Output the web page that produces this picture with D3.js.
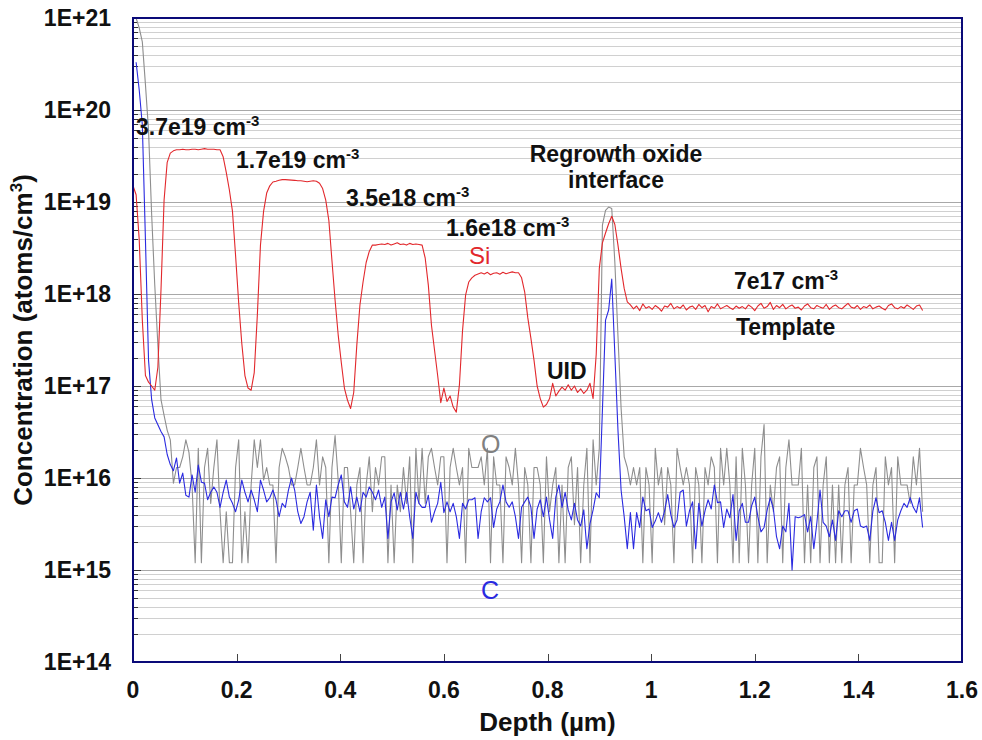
<!DOCTYPE html>
<html>
<head>
<meta charset="utf-8">
<script src="https://cdn.jsdelivr.net/npm/d3@7"></script>
<style>
  body { margin: 0; background: #fff; }
  text { font-family: "Liberation Sans", Arial, Helvetica, sans-serif; }
</style>
</head>
<body>
<svg id="chart" width="982" height="740"></svg>
<script>
// SIMS depth profile: Si, O and C concentration versus depth.
// All three profiles share one sampling grid: sample i sits at depth i * depthStep (µm).
const depthStep = 0.006;

// Si concentration (atoms/cm3)
const siValues = [
  1.5e19, 1.2e19, 3.9e18, 5.2e17, 1.3e17, 1.1e17, 1.0e17, 9e16, 1.6e17, 1.1e18,
  1.05e19, 2.7e19, 3.4e19,
  3.6e19, 3.7e19, 3.7e19, 3.75e19, 3.7e19, 3.7e19, 3.75e19, 3.75e19, 3.7e19, 3.75e19,
  3.8e19, 3.75e19, 3.75e19, 3.75e19, 3.7e19, 3.7e19,
  3.1e19, 2.1e19, 1.35e19, 7.9e18, 2.6e18, 8e17, 2.9e17, 1.3e17, 9.5e16, 9e16,
  1.4e17, 5.9e17, 3.4e18, 7.9e18, 1.25e19, 1.5e19, 1.65e19,
  1.68e19, 1.72e19, 1.75e19, 1.75e19, 1.74e19, 1.73e19, 1.72e19, 1.7e19, 1.7e19,
  1.68e19, 1.66e19, 1.68e19, 1.7e19, 1.68e19, 1.6e19,
  1.4e19, 1.05e19, 6.3e18, 2.3e18, 8.6e17, 3.6e17, 1.8e17, 9.5e16, 7e16, 5.7e16,
  8.5e16, 2.8e17, 7.6e17, 1.35e18, 2.2e18, 2.9e18, 3.4e18,
  3.4e18, 3.45e18, 3.5e18, 3.45e18, 3.55e18, 3.4e18, 3.5e18, 3.6e18, 3.45e18, 3.5e18,
  3.4e18, 3.55e18, 3.45e18, 3.5e18, 3.45e18, 3.4e18,
  2.45e18, 1.25e18, 4.6e17, 2.45e17, 1.3e17, 6.6e16, 9.5e16, 6.8e16, 7.8e16, 5.9e16,
  5.2e16, 1.03e17, 4e17, 9.8e17, 1.35e18, 1.5e18,
  1.6e18, 1.65e18, 1.7e18, 1.65e18, 1.72e18, 1.62e18, 1.68e18, 1.7e18, 1.64e18, 1.72e18,
  1.66e18, 1.7e18, 1.74e18, 1.7e18,
  1.7e18, 1.5e18, 1.05e18, 5.5e17, 3.3e17, 1.9e17, 1.0e17, 7.3e16, 5.9e16, 6.3e16,
  7.3e16, 1.07e17, 7.8e16, 8.8e16, 9.7e16, 9e16, 1.03e17, 9e16, 1e17, 8.5e16,
  9.3e16, 8.3e16, 9e16, 1.07e17, 7.3e16, 2.2e17, 1.9e18, 3.6e18, 4.6e18, 5.8e18,
  7e18, 5.7e18, 3.4e18, 1.9e18, 1.15e18, 8.2e17,
  7.6e17, 6.9e17, 7.4e17, 6.6e17, 7.8e17, 7.0e17, 7.3e17, 6.8e17, 7.5e17, 7.1e17,
  6.5e17, 7.4e17, 7.2e17, 7.9e17, 6.9e17, 7.3e17, 7.0e17, 7.6e17, 6.7e17, 7.2e17,
  7.4e17, 6.8e17, 7.7e17, 7.1e17, 7.5e17, 6.4e17, 7.3e17, 7.0e17, 7.8e17, 6.9e17,
  7.2e17, 7.5e17, 7.1e17, 6.8e17, 7.4e17, 7.0e17, 7.3e17, 6.9e17, 7.6e17, 7.2e17,
  6.6e17, 7.4e17, 7.9e17, 7.0e17, 7.3e17, 8.1e17, 6.8e17, 7.5e17, 7.1e17, 7.7e17,
  6.9e17, 7.3e17, 7.6e17, 7.0e17, 7.2e17, 6.7e17, 7.4e17, 7.8e17, 7.1e17, 6.9e17,
  7.5e17, 7.2e17, 7.0e17, 7.7e17, 6.8e17, 7.3e17, 7.6e17, 7.1e17, 6.9e17, 7.4e17,
  7.9e17, 7.2e17, 7.0e17, 7.5e17, 6.8e17, 7.3e17, 7.1e17, 7.6e17, 6.9e17, 7.2e17,
  7.4e17, 7.0e17, 6.7e17, 7.5e17, 7.8e17, 7.1e17, 6.9e17, 7.3e17, 7.0e17, 7.6e17,
  7.2e17, 6.8e17, 7.4e17, 7.6e17, 6.6e17
];

// O and C concentrations, in units of 1e15 atoms/cm3 (null = no reading)
const lowUnit = 1e15;

const oValues = [
  null, 1.0e6, 7.8e5, 5.5e5, 1.9e5, 6e4, 7300, 1250, 280, 71, 48, 33, 26, 8.8,
  13, 13, 17, 26, 19, 8.4, 1.2, 21, 1.2, 13, 21, 5.3, 13, 26, 4.3, 1.2,
  4.3, 1.2, 1.2, 13, 26, 1.2, 4.3, 1.2, 8.4, 26, 13, 26, 9.5, 13, 8.4, 8.4,
  1.2, 13, 21, 17, 13, 8.4, 8.4, 13, 21, 13, 8.4, 8.4, 13, 26, 8.4, 17, 13, 1.2, 13,
  29, 9.5, 1.2, 13, 13, 4.3, 1.2, 8.4, 13,
  1.2, 8.4, 17, 4.3, 13, 8.4, 17, 17, 1.2, 8.4, 1.2, 8.4, 4.3,
  13, 5.3, 17, 1.2, 21, 5.3, 21, 5.3, 17, 21, 13,
  8.4, 17, 17, 1.2, 13, 21, 13, 8.4, 13, 1.2, 21, 13, 13, 13, 17,
  8.4, 21, 1.2, 17, 8.4, 8.4, 1.2, 17, 13, 8.4, 21, 8.4,
  1.2, 13, 8.4, 1.2, 13, 13, 8.4, 1.2, 17, 4.3, 8.4, 13,
  1.2, 8.4, 1.2, 13, 17, 3.1, 13, 1.2, 8.4,
  21, 1.2, 26, 8.4, 21,
  5600, 8100, 8800, 8500, 2200, 350, 58,
  17, 13, 8.4, 13, 8.4, 13, 1.2, 13, 8.4, 1.2, 21, 8.4, 13, 3.1, 13, 8.4, 1.2, 21, 13,
  8.4, 13, 8.4, 1.2, 13, 8.4, 1.2, 13, 8.4, 17, 13, 1.2, 21, 8.4, 21, 8.4, 1.2,
  17, 1.2, 21, 8.4, 1.2, 8.4, 21, 1.2, 17, 38, 1.2, 8.4, 4.3, 13, 17, 1.2, 13, 26,
  8.4, 8.4, 8.4, 21, 1.2, 8.4, 1.2, 13, 17, 1.2, 8.4, 17, 1.2, 8.4, 1.2, 8.4, 1.2,
  8.4, 13, 1.2, 8.4, 8.4, 21, 13, 8.4, 1.2, 8.4, 13, 1.2, 1.2, 17, 8.4, 13, 1.2,
  17, 8.4, 8.4, 8.4, 5.3, 17, 8.4, 21, 4.3
];

const cValues = [
  null, 330000, 165000, 69000, 3900, 190, 71, 45, 38, 32, 28, 18, 14, 12, 16.5,
  8.8, 11.3, 6.5, 6.2, 10.8, 7.0, 13.8, 9.0, 8.8, 5.8,
  7.0, 8.0, 7.0, 4.8, 7.0, 9.5, 6.2, 5.3, 4.3, 5.8,
  9.5, 7.0, 5.5, 7.4, 5.8, 4.3, 9.5, 7.4, 5.5, 6.1,
  7.4, 5.8, 3.8, 5.3, 4.8, 7.4, 10.0, 7.4, 4.3, 3.2,
  3.8, 5.5, 7.0, 2.7, 8.4, 3.8, 2.2, 5.8, 3.8, 6.2, 6.1, 8.4,
  10.8, 5.5, 4.8, 8.0, 4.6, 6.2, 4.3, 7.0, 6.2,
  8.0, 7.0, 5.8, 7.4, 4.8, 6.2, 2.2, 5.5, 6.9,
  4.5, 7.0, 4.6, 7.0, 3.8, 2.2, 7.0, 5.3, 4.8,
  4.8, 6.5, 3.3, 4.3, 5.3, 9.0, 4.2, 5.5, 4.3,
  5.3, 3.8, 2.2, 5.3, 4.6, 5.8, 5.8, 6.1, 2.2,
  4.3, 6.1, 5.5, 6.1, 2.9, 4.6, 5.5, 8.4, 5.5,
  4.8, 5.5, 3.8, 2.2, 4.8, 5.5, 6.2, 4.8, 2.2, 4.6, 5.8,
  3.8, 6.2, 3.5, 2.2, 6.2, 8.4, 4.8, 7.0, 4.5, 3.5, 5.3, 3.5, 3.0, 4.5, 1.7, 3.2, 4.5, 6.9, 6.1,
  55, 520, 670, 1450, 220, 33, 7.4,
  3.8, 1.7, 4.2, 1.7, 4.2, 2.9, 6.2,
  4.4, 4.6, 2.9, 3.4, 4.2, 3.3, 4.4, 6.6,
  4.0, 2.9, 3.5, 7.0, 7.4, 3.0, 4.4, 5.5,
  1.7, 5.3, 3.0, 4.4, 5.8, 4.6, 8.4, 5.4,
  5.5, 2.9, 4.6, 3.7, 6.6, 2.1, 4.4, 5.3,
  3.3, 3.3, 5.0, 6.2, 3.8, 2.6, 2.9, 4.5,
  6.1, 4.6, 2.3, 1.7, 3.0, 2.6, 5.3, 1.0, 3.8,
  3.7, 3.8, 4.0, 2.6, 3.8, 1.7, 3.3, 7.4, 3.3,
  3.0, 2.3, 3.5, 2.1, 4.4, 3.8, 4.4,
  4.4, 3.3, 4.4, 4.6, 3.0, 2.9, 3.0, 2.1, 4.4,
  6.1, 4.2, 4.4, 3.3, 2.1, 3.3, 2.1, 3.5,
  4.4, 5.3, 4.8, 6.1, 4.8, 4.2, 6.1, 2.9
];

// Axis ticks
const xTickValues = [0, 0.2, 0.4, 0.6, 0.8, 1, 1.2, 1.4, 1.6];
const xTickLabels = ["0", "0.2", "0.4", "0.6", "0.8", "1", "1.2", "1.4", "1.6"];
const yTickValues = [1e14, 1e15, 1e16, 1e17, 1e18, 1e19, 1e20, 1e21];
const yTickLabels = ["1E+14", "1E+15", "1E+16", "1E+17", "1E+18", "1E+19", "1E+20", "1E+21"];

// ---- layout ----
const plot = { left: 133, right: 962, top: 18, bottom: 662 };
const svg = d3.select("#chart");

const x = d3.scaleLinear().domain([0, 1.6]).range([plot.left, plot.right]);
const y = d3.scaleLog().domain([1e14, 1e21]).range([plot.bottom, plot.top]);

// horizontal gridlines at every 1..9 × 10^k
const gridVals = [];
for (let k = 14; k <= 20; k++) for (let m = 1; m <= 9; m++) gridVals.push(m * Math.pow(10, k));
gridVals.push(1e21);
const isDecade = d => Math.abs(Math.log10(d) - Math.round(Math.log10(d))) < 1e-9;

svg.append("g").attr("class", "grid")
  .selectAll("line").data(gridVals).join("line")
  .attr("x1", plot.left).attr("x2", plot.right)
  .attr("y1", d => Math.round(y(d)) + 0.5).attr("y2", d => Math.round(y(d)) + 0.5)
  .attr("stroke", d => (isDecade(d) ? "#a8a8a8" : "#d0d0d0"))
  .attr("stroke-width", 1);

// left axis inward ticks
svg.append("g").attr("class", "y-ticks")
  .selectAll("line").data(gridVals).join("line")
  .attr("x1", plot.left).attr("x2", d => plot.left + (isDecade(d) ? 8 : 5))
  .attr("y1", d => Math.round(y(d)) + 0.5).attr("y2", d => Math.round(y(d)) + 0.5)
  .attr("stroke", "#333").attr("stroke-width", 1);

// bottom axis inward ticks
svg.append("g").attr("class", "x-ticks")
  .selectAll("line").data(xTickValues).join("line")
  .attr("x1", d => Math.round(x(d)) + 0.5).attr("x2", d => Math.round(x(d)) + 0.5)
  .attr("y1", plot.bottom).attr("y2", plot.bottom - 8)
  .attr("stroke", "#444").attr("stroke-width", 1);

// profiles
svg.append("clipPath").attr("id", "plot-clip")
  .append("rect")
  .attr("x", plot.left).attr("y", plot.top)
  .attr("width", plot.right - plot.left).attr("height", plot.bottom - plot.top);

const toPoints = (vals, unit) => vals.map((v, i) => ({ d: i * depthStep, v: v == null ? null : v * unit }));
const line = d3.line().defined(p => p.v != null).x(p => x(p.d)).y(p => y(p.v));

const series = [
  { name: "O", points: toPoints(oValues, lowUnit), color: "#8e8e8e" },
  { name: "C", points: toPoints(cValues, lowUnit), color: "#2a2ae0" },
  { name: "Si", points: toPoints(siValues, 1), color: "#e2282c" }
];

svg.append("g").attr("clip-path", "url(#plot-clip)")
  .selectAll("path").data(series).join("path")
  .attr("d", s => line(s.points))
  .attr("fill", "none")
  .attr("stroke", s => s.color)
  .attr("stroke-width", 1.1)
  .attr("stroke-linejoin", "round");

// frame
svg.append("rect")
  .attr("x", plot.left).attr("y", plot.top)
  .attr("width", plot.right - plot.left).attr("height", plot.bottom - plot.top)
  .attr("fill", "none").attr("stroke", "#0a0a78").attr("stroke-width", 2);

// tick labels
svg.append("g").selectAll("text").data(yTickValues).join("text")
  .attr("x", 111).attr("y", d => y(d)).attr("dy", "0.36em")
  .attr("text-anchor", "end")
  .attr("font-size", 23).attr("font-weight", "bold").attr("fill", "#111")
  .text((d, i) => yTickLabels[i]);

svg.append("g").selectAll("text").data(xTickValues).join("text")
  .attr("x", d => x(d)).attr("y", 698)
  .attr("text-anchor", "middle")
  .attr("font-size", 23).attr("font-weight", "bold").attr("fill", "#111")
  .text((d, i) => xTickLabels[i]);

// axis titles
svg.append("text")
  .attr("x", (plot.left + plot.right) / 2).attr("y", 731)
  .attr("text-anchor", "middle")
  .attr("font-size", 26).attr("font-weight", "bold").attr("fill", "#111")
  .text("Depth (µm)");

const yTitle = svg.append("text")
  .attr("transform", `translate(32,${(plot.top + plot.bottom) / 2}) rotate(-90)`)
  .attr("text-anchor", "middle")
  .attr("font-size", 26).attr("font-weight", "bold").attr("fill", "#111");
yTitle.append("tspan").text("Concentration (atoms/cm");
yTitle.append("tspan").attr("font-size", 17).attr("dy", -10).text("3");
yTitle.append("tspan").attr("dy", 10).text(")");

// annotations
const doseNotes = [
  { text: "3.7e19 cm", x: 136, y: 135 },
  { text: "1.7e19 cm", x: 236, y: 168 },
  { text: "3.5e18 cm", x: 346, y: 206 },
  { text: "1.6e18 cm", x: 446, y: 236 },
  { text: "7e17 cm", x: 734, y: 289 }
];
doseNotes.forEach(n => {
  const t = svg.append("text")
    .attr("x", n.x).attr("y", n.y)
    .attr("font-size", 23).attr("font-weight", "bold").attr("fill", "#111");
  t.append("tspan").text(n.text);
  t.append("tspan").attr("font-size", 15).attr("dy", -9).text("-3");
});

const plainNotes = [
  { text: "Regrowth oxide", x: 616, y: 162, anchor: "middle" },
  { text: "interface", x: 616, y: 188, anchor: "middle" },
  { text: "UID", x: 547, y: 379, anchor: "start" },
  { text: "Template", x: 736, y: 335, anchor: "start" }
];
svg.append("g").selectAll("text").data(plainNotes).join("text")
  .attr("x", d => d.x).attr("y", d => d.y)
  .attr("text-anchor", d => d.anchor)
  .attr("font-size", 23).attr("font-weight", "bold").attr("fill", "#111")
  .text(d => d.text);

const seriesNotes = [
  { text: "Si", x: 469, y: 264, size: 24, color: "#e2282c" },
  { text: "O", x: 481, y: 453, size: 25, color: "#808080" },
  { text: "C", x: 481, y: 599, size: 25, color: "#2a2ae0" }
];
svg.append("g").selectAll("text").data(seriesNotes).join("text")
  .attr("x", d => d.x).attr("y", d => d.y)
  .attr("font-size", d => d.size).attr("fill", d => d.color)
  .text(d => d.text);
</script>
</body>
</html>
